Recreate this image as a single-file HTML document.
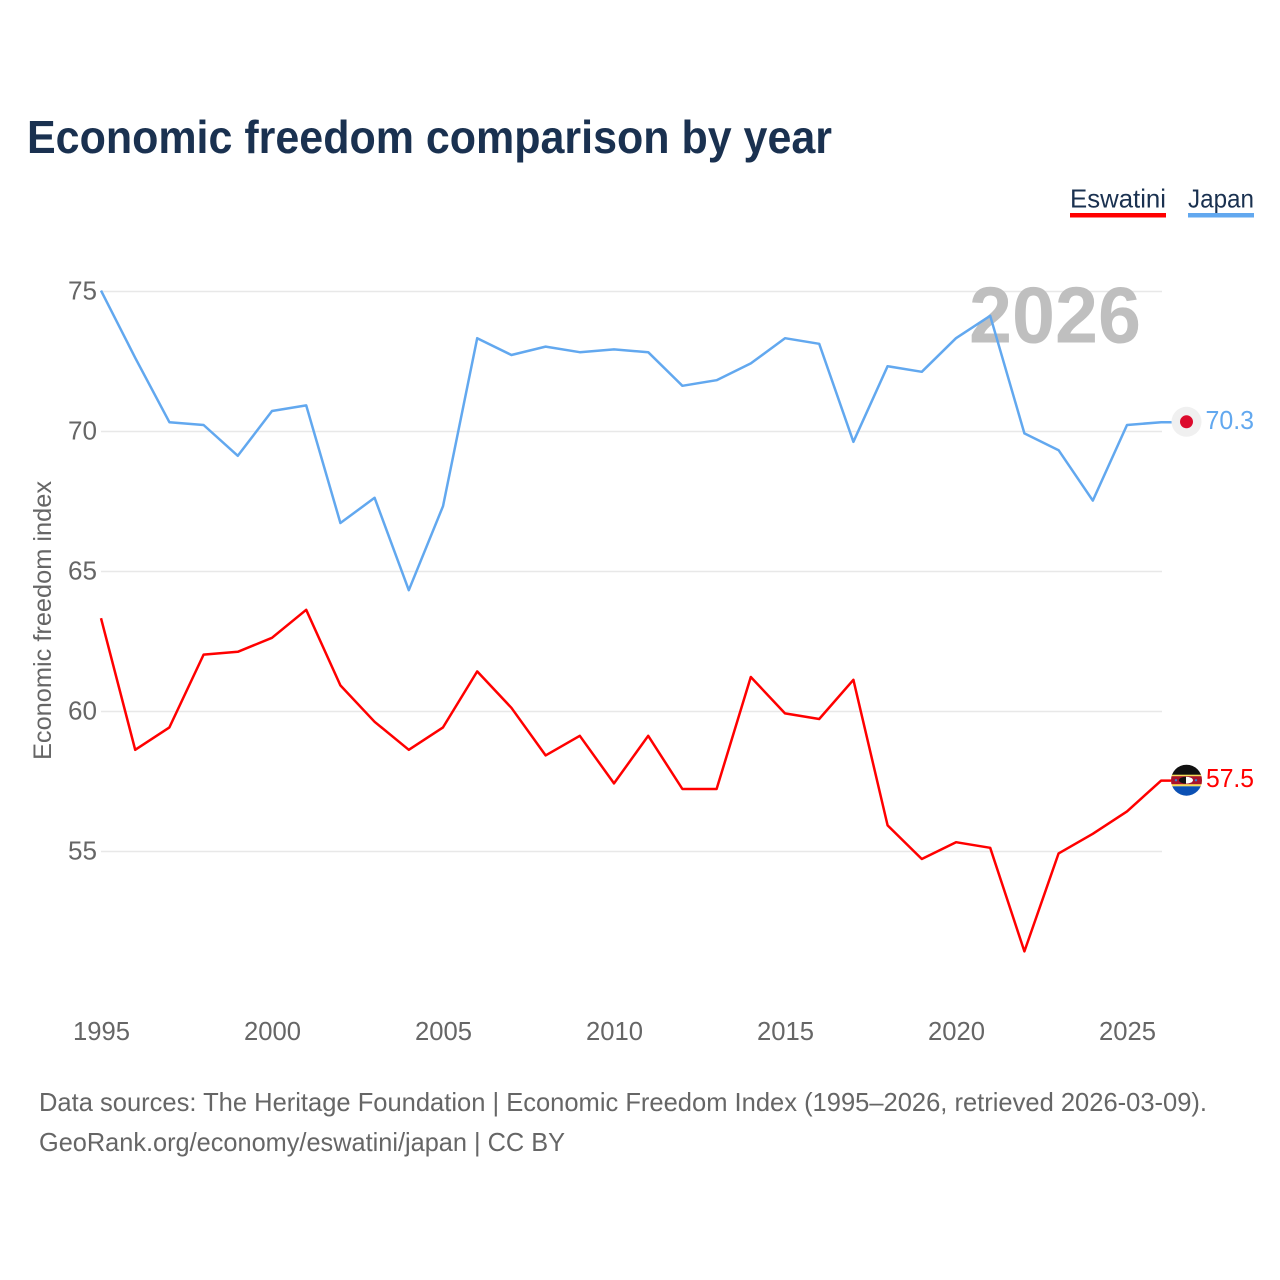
<!DOCTYPE html>
<html lang="en">
<head>
<meta charset="utf-8">
<title>Economic freedom comparison by year</title>
<style>
  html, body { margin: 0; padding: 0; background: #fff; }
  svg { display: block; font-family: "Liberation Sans", sans-serif; }
</style>
</head>
<body>
<svg id="chart" xmlns="http://www.w3.org/2000/svg" width="1280" height="1280" viewBox="0 0 1280 1280">
  <rect x="0" y="0" width="1280" height="1280" fill="#ffffff"/>
  <text x="27" y="153" font-size="46" font-weight="700" fill="#1a3150" textLength="805" lengthAdjust="spacingAndGlyphs">Economic freedom comparison by year</text>

  <g>
    <text x="1070" y="207.5" font-size="26" fill="#1a3150" textLength="96" lengthAdjust="spacingAndGlyphs">Eswatini</text>
    <rect x="1070" y="213" width="96" height="4.5" fill="#ff0000"/>
    <text x="1188" y="207.5" font-size="26" fill="#1a3150" textLength="66" lengthAdjust="spacingAndGlyphs">Japan</text>
    <rect x="1188" y="213" width="66" height="4.5" fill="#62a8ef"/>
  </g>

  <g id="grid"></g>
  <text id="year-watermark" x="969" y="342.5" font-size="80" font-weight="700" fill="#bfbfbf" textLength="172" lengthAdjust="spacingAndGlyphs">2026</text>
  <g id="y-ticks"></g>
  <g id="x-ticks"></g>
  <text transform="translate(51,620.5) rotate(-90)" text-anchor="middle" font-size="25" fill="#666666" textLength="279" lengthAdjust="spacingAndGlyphs">Economic freedom index</text>
  <g id="series"></g>

  <defs>
    <clipPath id="flag-clip"><circle cx="0" cy="0" r="15.5"/></clipPath>
  </defs>

  <g id="marker-japan">
    <circle cx="0" cy="0" r="15" fill="#f0f0f0"/>
    <circle cx="0" cy="0" r="6.5" fill="#dc0a2c"/>
  </g>
  <g id="marker-eswatini">
    <g clip-path="url(#flag-clip)">
      <rect x="-16" y="-16" width="32" height="11" fill="#111111"/>
      <rect x="-16" y="6" width="32" height="10" fill="#0b50b4"/>
      <rect x="-16" y="-5.5" width="32" height="11.5" fill="#f6dc5a"/>
      <rect x="-16" y="-4" width="32" height="8" fill="#a8132c"/>
      <circle cx="-10.5" cy="0" r="1.2" fill="#3a7cc8"/>
      <circle cx="9.5" cy="0" r="1.2" fill="#3a7cc8"/>
      <ellipse cx="-0.5" cy="0" rx="7" ry="3.4" fill="#111111"/>
      <path d="M-0.5,-3.4 A7,3.4 0 0 1 -0.5,3.4 Z" fill="#ffffff"/>
    </g>
  </g>
  <text id="value-japan" x="1205.5" font-size="26" fill="#62a8ef" textLength="48.5" lengthAdjust="spacingAndGlyphs"></text>
  <text id="value-eswatini" x="1206" font-size="26" fill="#ff0000" textLength="48" lengthAdjust="spacingAndGlyphs"></text>

  <text x="39" y="1111" font-size="26" fill="#666666" textLength="1168" lengthAdjust="spacingAndGlyphs">Data sources: The Heritage Foundation | Economic Freedom Index (1995–2026, retrieved 2026-03-09).</text>
  <text x="39" y="1151" font-size="26" fill="#666666" textLength="526" lengthAdjust="spacingAndGlyphs">GeoRank.org/economy/eswatini/japan | CC BY</text>
</svg>
<script>
const years = [1995,1996,1997,1998,1999,2000,2001,2002,2003,2004,2005,2006,2007,2008,2009,2010,2011,2012,2013,2014,2015,2016,2017,2018,2019,2020,2021,2022,2023,2024,2025,2026];
const japanValues = [75.0,72.6,70.3,70.2,69.1,70.7,70.9,66.7,67.6,64.3,67.3,73.3,72.7,73.0,72.8,72.9,72.8,71.6,71.8,72.4,73.3,73.1,69.6,72.3,72.1,73.3,74.1,69.9,69.3,67.5,70.2,70.3];
const eswatiniValues = [63.3,58.6,59.4,62.0,62.1,62.6,63.6,60.9,59.6,58.6,59.4,61.4,60.1,58.4,59.1,57.4,59.1,57.2,57.2,61.2,59.9,59.7,61.1,55.9,54.7,55.3,55.1,51.4,54.9,55.6,56.4,57.5];
const yTickValues = [75,70,65,60,55];
const xTickValues = [1995,2000,2005,2010,2015,2020,2025];

const NS = 'http://www.w3.org/2000/svg';
function xScale(year) { return 101 + (year - 1995) * 34.2; }
function yScale(value) { return 290.6 + (75 - value) * 28; }

const gridGroup = document.getElementById('grid');
const yTickGroup = document.getElementById('y-ticks');
const xTickGroup = document.getElementById('x-ticks');
const seriesGroup = document.getElementById('series');

yTickValues.forEach(function (tick) {
  const line = document.createElementNS(NS, 'line');
  
  
  line.setAttribute('x1', 101);
  line.setAttribute('x2', 1162);
  line.setAttribute('y1', yScale(tick) + 0.9);
  line.setAttribute('y2', yScale(tick) + 0.9);
  line.setAttribute('stroke', '#e8e8e8');
  line.setAttribute('stroke-width', 1.5);
  gridGroup.appendChild(line);

  const label = document.createElementNS(NS, 'text');
  
  
  label.setAttribute('x', 97);
  label.setAttribute('y', yScale(tick) + 9);
  label.setAttribute('text-anchor', 'end');
  label.setAttribute('font-size', 26);
  label.setAttribute('fill', '#666666');
  label.setAttribute('textLength', 29);
  label.setAttribute('lengthAdjust', 'spacingAndGlyphs');
  label.textContent = String(tick);
  yTickGroup.appendChild(label);
});

xTickValues.forEach(function (tick) {
  const label = document.createElementNS(NS, 'text');
  
  
  label.setAttribute('x', xScale(tick) + 0.5);
  label.setAttribute('y', 1040);
  label.setAttribute('text-anchor', 'middle');
  label.setAttribute('font-size', 26);
  label.setAttribute('fill', '#666666');
  label.setAttribute('textLength', 57);
  label.setAttribute('lengthAdjust', 'spacingAndGlyphs');
  label.textContent = String(tick);
  xTickGroup.appendChild(label);
});

function drawSeries(name, values, color) {
  const parts = values.map(function (v, i) {
    return xScale(years[i]).toFixed(2) + ',' + yScale(v).toFixed(2);
  });
  parts.push('1172,' + yScale(values[values.length - 1]).toFixed(2));
  const path = document.createElementNS(NS, 'polyline');
  
  
  path.setAttribute('points', parts.join(' '));
  path.setAttribute('fill', 'none');
  path.setAttribute('stroke', color);
  path.setAttribute('stroke-width', 2.5);
  path.setAttribute('stroke-linejoin', 'round');
  seriesGroup.appendChild(path);
}
drawSeries('eswatini', eswatiniValues, '#ff0000');
drawSeries('japan', japanValues, '#62a8ef');

function placeEnd(markerId, valueId, values) {
  const last = values[values.length - 1];
  const cy = yScale(last) - 0.4;
  document.getElementById(markerId).setAttribute('transform', 'translate(1186.5,' + cy + ')');
  const text = document.getElementById(valueId);
  text.setAttribute('y', cy + 7);
  text.textContent = last.toFixed(1);
}
placeEnd('marker-japan', 'value-japan', japanValues);
placeEnd('marker-eswatini', 'value-eswatini', eswatiniValues);
</script>
</body>
</html>
